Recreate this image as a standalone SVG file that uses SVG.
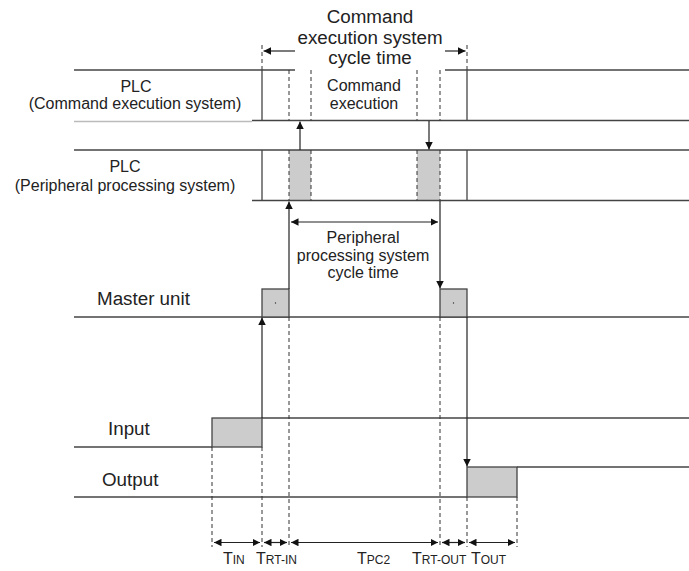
<svg xmlns="http://www.w3.org/2000/svg" width="689" height="571" viewBox="0 0 689 571">
<defs>
<style>
.ln{stroke:#444;stroke-width:1.3;fill:none}
.lt{stroke:#bbb;stroke-width:1.3;fill:none}
.ds{stroke:#333;stroke-width:1;stroke-dasharray:4,3;fill:none}
.ar{stroke:#222;stroke-width:1.2;fill:none}
.box{fill:#cccccc;stroke:#444;stroke-width:1.3}
.gb{fill:#cccccc;stroke:none}
text{font-family:"Liberation Sans",Arial,sans-serif;fill:#222}
.big{font-size:18.8px}
.mid{font-size:16px}
.t{font-size:16px}
.s{font-size:12px}
</style>
<marker id="ah" viewBox="0 0 10 10" refX="10" refY="5" markerWidth="7.5" markerHeight="7.5" markerUnits="userSpaceOnUse" orient="auto-start-reverse">
<path d="M0,0 L10,5 L0,10 z" fill="#111"/>
</marker>
</defs>

<g id="cmd-row">
<line class="ln" x1="74" y1="70" x2="295" y2="70"/>
<line class="ln" x1="445" y1="70" x2="689" y2="70"/>
<line class="lt" x1="74" y1="121.5" x2="252" y2="121.5"/>
<line class="ln" x1="252" y1="120.5" x2="689" y2="120.5"/>
<line class="ln" x1="262" y1="70" x2="262" y2="120.5"/>
<line class="ln" x1="467" y1="70" x2="467" y2="120.5"/>
<line class="ds" x1="289" y1="70" x2="289" y2="120.5"/>
<line class="ds" x1="311" y1="70" x2="311" y2="120.5"/>
<line class="ds" x1="417" y1="70" x2="417" y2="120.5"/>
<line class="ds" x1="440" y1="70" x2="440" y2="120.5"/>
<text class="mid" x="136" y="91.5" text-anchor="middle">PLC</text>
<text class="mid" x="135" y="108.5" text-anchor="middle">(Command execution system)</text>
<text class="mid" x="364" y="90.5" text-anchor="middle">Command</text>
<text class="mid" x="364" y="108.5" text-anchor="middle">execution</text>
</g>

<g id="periph-row">
<rect class="gb" x="289" y="150" width="22" height="50.5"/>
<rect class="gb" x="417" y="150" width="23" height="50.5"/>
<line class="ln" x1="74" y1="150" x2="689" y2="150"/>
<line class="ln" x1="252" y1="200.5" x2="689" y2="200.5"/>
<line class="ln" x1="262" y1="150" x2="262" y2="200.5"/>
<line class="ln" x1="467" y1="150" x2="467" y2="200.5"/>
<line class="ds" x1="289" y1="150" x2="289" y2="200.5"/>
<line class="ds" x1="311" y1="150" x2="311" y2="200.5"/>
<line class="ds" x1="417" y1="150" x2="417" y2="200.5"/>
<line class="ds" x1="440" y1="150" x2="440" y2="200.5"/>
<text class="mid" x="125" y="171.5" text-anchor="middle">PLC</text>
<text class="mid" x="125" y="190.5" text-anchor="middle">(Peripheral processing system)</text>
</g>

<g id="cmd-cycle">
<line class="ds" x1="262" y1="45" x2="262" y2="70"/>
<line class="ds" x1="467" y1="45" x2="467" y2="70"/>
<text class="big" x="370" y="23" text-anchor="middle">Command</text>
<text class="big" x="370" y="44" text-anchor="middle">execution system</text>
<text class="big" x="370" y="64" text-anchor="middle">cycle time</text>
</g>

<g id="periph-cycle">
<text class="mid" x="363" y="243" text-anchor="middle">Peripheral</text>
<text class="mid" x="363" y="261" text-anchor="middle">processing system</text>
<text class="mid" x="363" y="278" text-anchor="middle">cycle time</text>
</g>

<g id="master-unit">
<line class="ln" x1="74" y1="317" x2="689" y2="317"/>
<rect class="box" x="262" y="289" width="27" height="28"/>
<rect class="box" x="440" y="289" width="27" height="28"/>
<circle cx="275.5" cy="303" r="0.7" fill="#333"/>
<circle cx="453.5" cy="303" r="0.7" fill="#333"/>
<text class="big" x="97" y="305">Master unit</text>
</g>

<g id="input">
<rect class="box" x="212" y="418" width="50" height="29"/>
<line class="ln" x1="262" y1="418" x2="689" y2="418"/>
<line class="ln" x1="74" y1="447" x2="212" y2="447"/>
<text class="big" x="108" y="435">Input</text>
</g>

<g id="output">
<rect class="box" x="467" y="467" width="50" height="30"/>
<line class="ln" x1="517" y1="467" x2="689" y2="467"/>
<line class="ln" x1="74" y1="497" x2="467" y2="497"/>
<text class="big" x="102" y="486">Output</text>
</g>

<g id="timing-labels">
<line class="ds" x1="212" y1="447" x2="212" y2="547"/>
<line class="ds" x1="262" y1="447" x2="262" y2="547"/>
<line class="ds" x1="289" y1="317" x2="289" y2="547"/>
<line class="ds" x1="440" y1="317" x2="440" y2="547"/>
<line class="ds" x1="467" y1="497" x2="467" y2="547"/>
<line class="ds" x1="517" y1="497" x2="517" y2="547"/>
<text class="t" x="223" y="564">T<tspan class="s">IN</tspan></text>
<text class="t" x="256" y="564">T<tspan class="s">RT-IN</tspan></text>
<text class="t" x="357" y="564">T<tspan class="s">PC2</tspan></text>
<text class="t" x="412" y="564">T<tspan class="s">RT-OUT</tspan></text>
<text class="t" x="471" y="564">T<tspan class="s">OUT</tspan></text>
</g>

<g id="connectors">
<line class="ar" x1="300" y1="150" x2="300" y2="121.5" marker-end="url(#ah)"/>
<line class="ar" x1="429" y1="121" x2="429" y2="149.5" marker-end="url(#ah)"/>
<line class="ar" x1="295" y1="51" x2="263.5" y2="51" marker-end="url(#ah)"/>
<line class="ar" x1="445" y1="51" x2="465.5" y2="51" marker-end="url(#ah)"/>
<line class="ar" x1="291" y1="222" x2="438" y2="222" marker-start="url(#ah)" marker-end="url(#ah)"/>
<line class="ar" x1="289" y1="289" x2="289" y2="201.5" marker-end="url(#ah)"/>
<line class="ar" x1="440" y1="201" x2="440" y2="288.5" marker-end="url(#ah)"/>
<line class="ar" x1="262" y1="418" x2="262" y2="317.5" marker-end="url(#ah)"/>
<line class="ar" x1="467" y1="317" x2="467" y2="466.5" marker-end="url(#ah)"/>
<line class="ar" x1="214" y1="542.5" x2="260" y2="542.5" marker-start="url(#ah)" marker-end="url(#ah)"/>
<line class="ar" x1="264" y1="542.5" x2="287" y2="542.5" marker-start="url(#ah)" marker-end="url(#ah)"/>
<line class="ar" x1="291" y1="542.5" x2="438" y2="542.5" marker-start="url(#ah)" marker-end="url(#ah)"/>
<line class="ar" x1="442" y1="542.5" x2="465" y2="542.5" marker-start="url(#ah)" marker-end="url(#ah)"/>
<line class="ar" x1="469" y1="542.5" x2="515" y2="542.5" marker-start="url(#ah)" marker-end="url(#ah)"/>
</g>
</svg>
